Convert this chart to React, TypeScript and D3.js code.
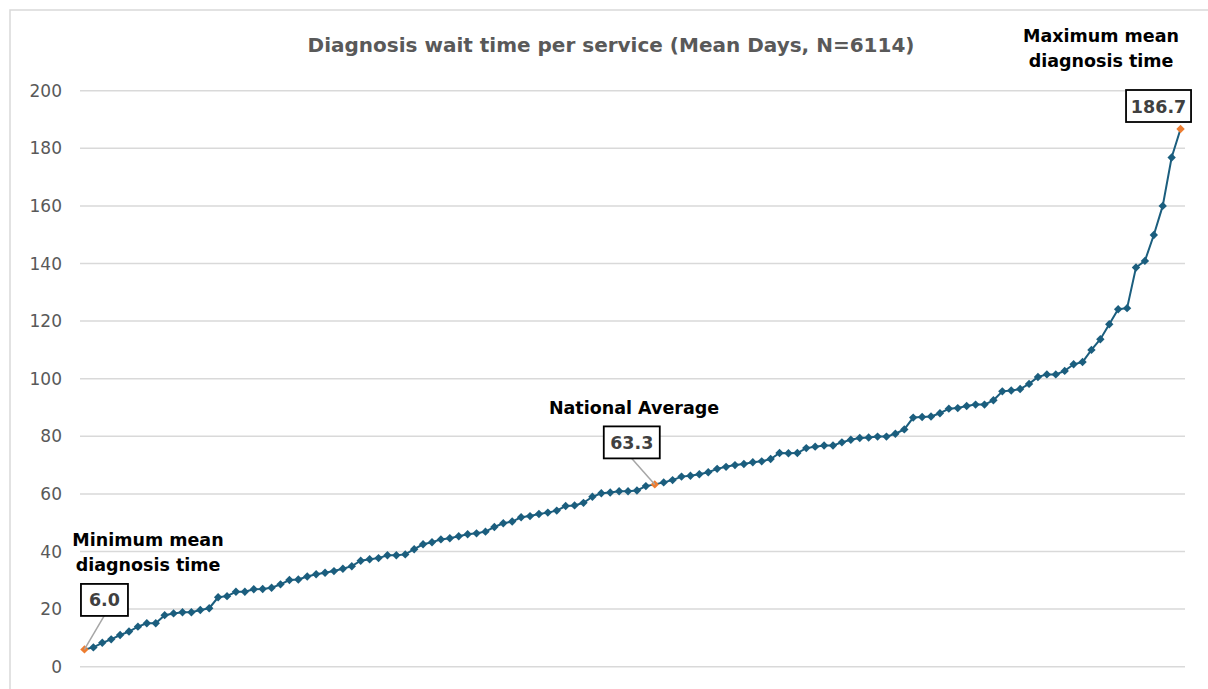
import React from 'react';
import * as d3 from 'd3';

// ---- Data ----
const meanDays: number[] = [
  6.0, 6.7, 8.3, 9.5, 11.0, 12.2, 13.9, 15.1, 15.1, 17.9,
  18.5, 18.9, 18.9, 19.7, 20.3, 24.1, 24.5, 26.0, 26.0, 26.9,
  27.0, 27.4, 28.6, 30.1, 30.3, 31.3, 32.1, 32.6, 33.2, 34.0,
  34.9, 36.8, 37.3, 37.7, 38.7, 38.7, 39.0, 40.8, 42.5, 43.2,
  44.2, 44.6, 45.3, 46.0, 46.3, 46.9, 48.5, 49.8, 50.4, 51.9,
  52.3, 53.0, 53.5, 54.2, 55.8, 56.0, 56.9, 59.0, 60.2, 60.5,
  60.9, 60.9, 61.2, 62.7, 63.3, 64.0, 64.8, 66.0, 66.3, 66.8,
  67.5, 68.7, 69.4, 70.0, 70.4, 71.0, 71.3, 72.1, 74.2, 74.1,
  74.2, 75.9, 76.4, 76.8, 76.8, 77.9, 78.8, 79.4, 79.6, 79.9,
  79.9, 80.9, 82.4, 86.5, 86.7, 86.9, 88.0, 89.6, 89.8, 90.5,
  91.0, 91.0, 92.5, 95.6, 95.9, 96.4, 98.2, 100.6, 101.5, 101.5,
  102.7, 105.0, 105.8, 110.0, 113.7, 118.9, 124.1, 124.5, 138.6, 140.9,
  149.9, 160.0, 176.8, 186.7,
];
const services: string[] = meanDays.map((_, i) => `S${i + 1}`);
const yTicks: number[] = [0, 20, 40, 60, 80, 100, 120, 140, 160, 180, 200];
const titleText = 'Diagnosis wait time per service (Mean Days, N=6114)';
const highlightIdx: number[] = [0, 64, 123];
const minLabel = ['Minimum mean', 'diagnosis time'];
const avgLabel = ['National Average'];
const maxLabel = ['Maximum mean', 'diagnosis time'];

const FONT = '"DejaVu Sans", sans-serif';
const LINE = '#1B5E7E';
const ORANGE = '#ED7D31';

const diamond = (cx: number, cy: number, r: number) =>
  `M${cx},${cy - r}L${cx + r},${cy}L${cx},${cy + r}L${cx - r},${cy}Z`;

export default function App() {
  const x = d3.scaleBand<string>().domain(services).range([80, 1185]).paddingInner(0).paddingOuter(0);
  const cx = (i: number) => (x(services[i]) as number) + x.bandwidth() / 2;
  const y = d3.scaleLinear().domain([0, 200]).range([666.7, 90.7]);
  const line = d3
    .line<number>()
    .x((_, i) => cx(i))
    .y((d) => y(d));

  const box = (label: string, bx: number, by: number, w: number) => (
    <g>
      <rect x={bx - w / 2} y={by - 16} width={w} height={32} fill="#fff" stroke="#000" strokeWidth={1.8} />
      <text x={bx} y={by + 6.5} textAnchor="middle" fontFamily={FONT} fontWeight="bold" fontSize={17.5} fill="#404040">
        {label}
      </text>
    </g>
  );

  const p0 = { x: cx(0), y: y(meanDays[0]) };
  const p1 = { x: cx(64), y: y(meanDays[64]) };
  const p2 = { x: cx(123), y: y(meanDays[123]) };

  return (
    <svg width={1208} height={689} style={{ position: 'absolute', left: 0, top: 0, background: '#fff' }}>
      <rect x={10} y={10} width={1230} height={700} fill="#fff" stroke="#d9d9d9" strokeWidth={1.5} />
      <text x={611} y={52} textAnchor="middle" fontFamily={FONT} fontWeight="bold" fontSize={20} fill="#595959">
        {titleText}
      </text>
      {yTicks.map((t) => (
        <g key={t}>
          <line x1={80} x2={1185} y1={y(t)} y2={y(t)} stroke="#d9d9d9" strokeWidth={1.5} />
          <text x={62} y={y(t) + 6} textAnchor="end" fontFamily={FONT} fontSize={17} fill="#595959">
            {t}
          </text>
        </g>
      ))}
      <path d={line(meanDays) as string} fill="none" stroke={LINE} strokeWidth={2} />
      {meanDays.map((d, i) => (
        <path key={i} d={diamond(cx(i), y(d), 4.2)} fill={highlightIdx.includes(i) ? ORANGE : LINE} />
      ))}

      {/* Minimum annotation */}
      <line x1={p0.x + 20} y1={p0.y - 34} x2={p0.x} y2={p0.y} stroke="#a6a6a6" strokeWidth={1.5} />
      {box(meanDays[0].toFixed(1), p0.x + 20, p0.y - 49.5, 47)}
      {minLabel.map((s, k) => (
        <text key={s} x={148} y={546 + k * 25} textAnchor="middle" fontFamily={FONT} fontWeight="bold" fontSize={17.5} fill="#000">
          {s}
        </text>
      ))}

      {/* National average annotation */}
      <line x1={p1.x - 23} y1={p1.y - 26} x2={p1.x} y2={p1.y} stroke="#a6a6a6" strokeWidth={1.5} />
      {box(meanDays[64].toFixed(1), p1.x - 23, p1.y - 42, 56)}
      {avgLabel.map((s) => (
        <text key={s} x={634} y={414} textAnchor="middle" fontFamily={FONT} fontWeight="bold" fontSize={17.5} fill="#000">
          {s}
        </text>
      ))}

      {/* Maximum annotation */}
      {box(meanDays[123].toFixed(1), p2.x - 22, p2.y - 23, 65)}
      {maxLabel.map((s, k) => (
        <text key={s} x={1101} y={42 + k * 25} textAnchor="middle" fontFamily={FONT} fontWeight="bold" fontSize={17.5} fill="#000">
          {s}
        </text>
      ))}
    </svg>
  );
}
